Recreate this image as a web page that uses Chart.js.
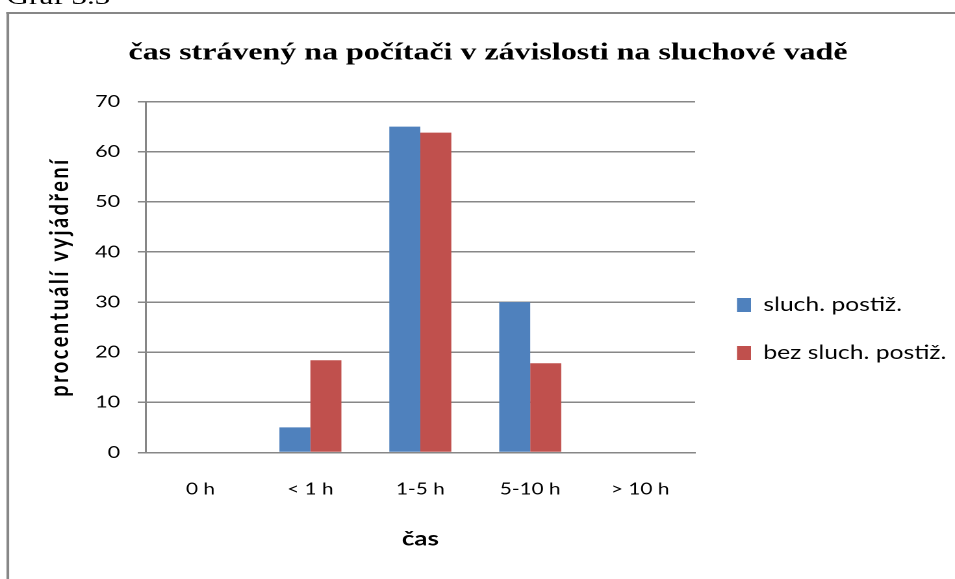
<!DOCTYPE html>
<html>
<head>
<meta charset="utf-8">
<script src="https://cdn.jsdelivr.net/npm/chart.js@4.4.1/dist/chart.umd.min.js"></script>
<style>
html, body { margin: 0; padding: 0; background: #fff; overflow: hidden; width: 955px; height: 579px; }
/* the source picture has its text drawn wide, so the whole chart is stretched sideways */
#stage { position: absolute; left: 0; top: 0; width: 735px; height: 579px; transform: scaleX(1.2993); transform-origin: 0 0; }
#caption { position: absolute; left: 5px; top: -16px; font: 24px/1 "Liberation Serif", serif; color: #000; white-space: nowrap; }
#frame { position: absolute; left: 5.4px; top: 12px; width: 800px; height: 620px; border-left: 2px solid #878787; border-top: 2px solid #878787; }
#chart { position: absolute; left: 0; top: 0; }
</style>
</head>
<body>
<div id="stage">
  <div id="caption">Graf 3.3</div>
  <div id="frame"></div>
  <canvas id="chart" width="735" height="579"></canvas>
</div>
<script>
var categories = ['0 h', '< 1 h', '1-5 h', '5-10 h', '> 10 h'];
var seriesNames = ['sluch. postiž.', 'bez sluch. postiž.'];
var hearingImpaired = [0, 5, 65, 30, 0];
var noHearingImpairment = [0, 18.4, 63.8, 17.8, 0];
var yTicks = [0, 10, 20, 30, 40, 50, 60, 70];

var gridColor = '#878787';
var sansFont = 'Lato';

// title centred over the whole frame, legend lower and further right than chart.js puts them
var placeBoxes = {
    id: 'placeBoxes',
    afterLayout: function (chart) {
        var t = chart.titleBlock;
        var shift = 375.6 - (t.left + t.right) / 2;
        t.left += shift; t.right += shift;

        var lg = chart.legend;
        var w = lg.right - lg.left, h = lg.bottom - lg.top;
        lg.left = 538.2; lg.right = lg.left + w + 60;
        lg.top = 266.5; lg.bottom = lg.top + h;
    },
    beforeDraw: function (chart) {
        // the rotated axis title is spaced out in the source
        var s = chart.scales.y;
        if (s && !s._spaced) {
            var orig = s.drawTitle;
            s.drawTitle = function () {
                this.ctx.save();
                this.ctx.letterSpacing = '2.5px';
                orig.apply(this, arguments);
                this.ctx.restore();
            };
            s._spaced = true;
        }
    }
};

var ctx = document.getElementById('chart').getContext('2d');
new Chart(ctx, {
    type: 'bar',
    data: {
        labels: categories,
        datasets: [
            { label: seriesNames[0], data: hearingImpaired, backgroundColor: '#4F81BD', borderWidth: 0 },
            { label: seriesNames[1], data: noHearingImpairment, backgroundColor: '#C0504D', borderWidth: 0 }
        ]
    },
    options: {
        responsive: false,
        animation: false,
        devicePixelRatio: 2,
        categoryPercentage: 0.564,
        barPercentage: 1.0,
        layout: { padding: { left: 0, right: 21.7, top: 0, bottom: 0 } },
        plugins: {
            title: {
                display: true,
                text: 'čas strávený na počítači v závislosti na sluchové vadě',
                color: '#000',
                font: { family: 'Liberation Serif', size: 24.6, weight: 'bold' },
                padding: { top: 38.6, bottom: 33.4 }
            },
            legend: {
                position: 'right',
                align: 'start',
                labels: {
                    boxWidth: 10.8,
                    boxHeight: 14,
                    padding: 29,
                    color: '#000',
                    font: { family: sansFont, size: 19 }
                }
            },
            tooltip: { enabled: false }
        },
        scales: {
            x: {
                grid: { display: false, drawTicks: false },
                border: { display: true, color: gridColor, width: 1.5 },
                ticks: { padding: 27.4, color: '#000', font: { family: sansFont, size: 16 } },
                title: {
                    display: true,
                    text: 'čas',
                    color: '#000',
                    font: { family: sansFont, size: 20, weight: 'bold' },
                    padding: { top: 0, bottom: 28 }
                },
                afterFit: function (s) { s.height = 126.5; }
            },
            y: {
                min: yTicks[0],
                max: yTicks[yTicks.length - 1],
                ticks: { stepSize: yTicks[1] - yTicks[0], padding: 13.6, color: '#000', font: { family: sansFont, size: 16.5 } },
                grid: { color: gridColor, lineWidth: 1.5, tickLength: 6, drawTicks: true },
                border: { display: true, color: gridColor, width: 1.5 },
                title: {
                    display: true,
                    text: 'procentuálí vyjádření',
                    color: '#000',
                    font: { family: sansFont, size: 20, weight: 'bold' },
                    padding: { top: 34.2, bottom: 0 }
                },
                afterFit: function (s) { s.width = 112.0; }
            }
        }
    },
    plugins: [placeBoxes]
});
</script>
</body>
</html>
